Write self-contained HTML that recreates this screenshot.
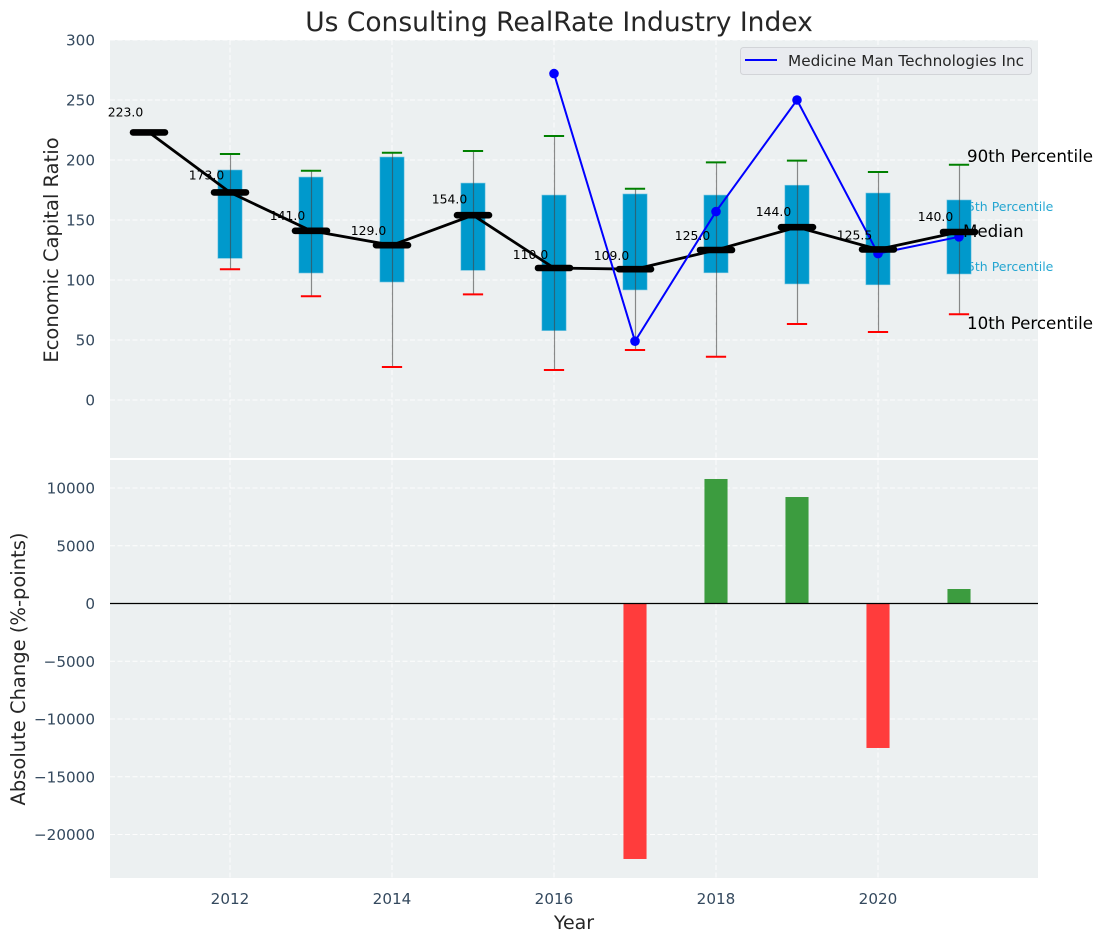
<!DOCTYPE html>
<html>
<head>
<meta charset="utf-8">
<style>
html,body{margin:0;padding:0;background:#fff;width:1102px;height:942px;overflow:hidden}
svg{display:block}
text{font-family:"DejaVu Sans","Liberation Sans",sans-serif}
</style>
</head>
<body>
<svg id="chart" width="1102" height="942" viewBox="0 0 1102 942" xmlns="http://www.w3.org/2000/svg">
  <text x="559" y="31" font-size="26.5" text-anchor="middle" fill="#262626">Us Consulting RealRate Industry Index</text>
  <rect x="110" y="40" width="928" height="418" fill="#ecf0f1"/>
  <rect x="110" y="460" width="928" height="418" fill="#ecf0f1"/>
  <g id="grid"></g>
  <g id="ticks"></g>
  <g id="bars"></g>
  <g id="pctText">
    <text x="959" y="211" font-size="12.5" fill="#0099cc" opacity="0.85">75th Percentile</text>
    <text x="959" y="271" font-size="12.5" fill="#0099cc" opacity="0.85">25th Percentile</text>
  </g>
  <g id="boxes"></g>
  <g id="medianLine"></g>
  <g id="companyLine"></g>
  <g id="medianCaps"></g>
  <g id="medianLabels"></g>
  <g>
    <text x="967" y="162" font-size="16.7" fill="#000">90th Percentile</text>
    <text x="963" y="237" font-size="16.7" fill="#000">Median</text>
    <text x="967" y="329" font-size="16.7" fill="#000">10th Percentile</text>
  </g>
  <g>
    <rect x="740.5" y="47.5" width="291" height="27" rx="3" fill="#e9ebef" stroke="#d2d4d8" stroke-width="1"/>
    <line x1="745" y1="60" x2="777" y2="60" stroke="#0000ff" stroke-width="2"/>
    <text x="788" y="66" font-size="15.3" fill="#262626">Medicine Man Technologies Inc</text>
  </g>
  <text transform="translate(58,250) rotate(-90)" font-size="19.5" text-anchor="middle" fill="#262626">Economic Capital Ratio</text>
  <text transform="translate(25,669) rotate(-90)" font-size="19.5" text-anchor="middle" fill="#262626">Absolute Change (%-points)</text>
  <text x="574" y="929" font-size="19" text-anchor="middle" fill="#262626">Year</text>
</svg>
<script>
var years = [2012, 2013, 2014, 2015, 2016, 2017, 2018, 2019, 2020, 2021];
var p90 = [205, 191, 206, 207.5, 220, 176, 198, 199.5, 190, 196];
var p75 = [191.7, 185.8, 202.5, 180.8, 170.8, 171.7, 170.8, 179, 172.5, 166.7];
var p25 = [118, 105.8, 98.3, 108, 57.8, 91.7, 106, 96.7, 96, 105];
var p10 = [109, 86.5, 27.5, 88, 25, 41.7, 36, 63.3, 56.7, 71.5];
var medianYears = [2011, 2012, 2013, 2014, 2015, 2016, 2017, 2018, 2019, 2020, 2021];
var medianValues = [223, 173, 141, 129, 154, 110, 109, 125, 144, 125.5, 140];
var companyYears = [2016, 2017, 2018, 2019, 2020, 2021];
var companyValues = [272, 49, 157, 250, 122, 136];
var changeYears = [2017, 2018, 2019, 2020, 2021];
var changeValues = [-22120, 10780, 9220, -12510, 1255];
var xTicks = [2012, 2014, 2016, 2018, 2020];
var topTicks = [0, 50, 100, 150, 200, 250, 300];
var bottomTicks = [-20000, -15000, -10000, -5000, 0, 5000, 10000];

function linear(d0, d1, r0, r1) {
  return function (v) { return r0 + (v - d0) * (r1 - r0) / (d1 - d0); };
}
var xScale = linear(2012, 2020, 230, 878);
var yTop = linear(0, 300, 400, 40);
var yBottom = linear(0, 10000, 603.5, 488);
var PLOT_L = 110, PLOT_R = 1038;

function make(parentId, tag, attrs) {
  var node = document.createElementNS('http://www.w3.org/2000/svg', tag);
  for (var k in attrs) node.setAttribute(k, attrs[k]);
  document.getElementById(parentId).appendChild(node);
  return node;
}
var n, i;

/* grid */
topTicks.forEach(function (t) {
  n = make('grid', 'line', {x1: PLOT_L, x2: PLOT_R, y1: yTop(t), y2: yTop(t), stroke: '#fff', 'stroke-width': 1, 'stroke-dasharray': '5 2.5', opacity: 0.9});
  
  
  n = make('ticks', 'text', {x: 95, y: yTop(t) + 5.5, 'text-anchor': 'end', 'font-size': 15.2, fill: '#34495e'});
  n.textContent = String(t);
  
  
});
bottomTicks.forEach(function (t) {
  n = make('grid', 'line', {x1: PLOT_L, x2: PLOT_R, y1: yBottom(t), y2: yBottom(t), stroke: '#fff', 'stroke-width': 1, 'stroke-dasharray': '5 2.5', opacity: 0.9});
  
  
  n = make('ticks', 'text', {x: 95, y: yBottom(t) + 5.5, 'text-anchor': 'end', 'font-size': 15.2, fill: '#34495e'});
  n.textContent = String(t).replace('-', '\u2212');
  
  
});
xTicks.forEach(function (t) {
  n = make('grid', 'line', {x1: xScale(t), x2: xScale(t), y1: 40, y2: 458, stroke: '#fff', 'stroke-width': 1, 'stroke-dasharray': '5 2.5', opacity: 0.9});
  
  
  n = make('grid', 'line', {x1: xScale(t), x2: xScale(t), y1: 460, y2: 878, stroke: '#fff', 'stroke-width': 1, 'stroke-dasharray': '5 2.5', opacity: 0.9});
  
  
  n = make('ticks', 'text', {x: xScale(t), y: 904, 'text-anchor': 'middle', 'font-size': 15.2, fill: '#34495e'});
  n.textContent = String(t);
  
  
});

/* change bars */
var barW = 0.285 * (xScale(1) - xScale(0));
changeYears.forEach(function (yr, idx) {
  var v = changeValues[idx];
  var y0 = yBottom(0), y1 = yBottom(v);
  n = make('bars', 'rect', {x: xScale(yr) - barW / 2, y: Math.min(y0, y1), width: barW, height: Math.abs(y1 - y0), fill: v >= 0 ? '#3c9c3f' : '#ff3c3c'});
  
  
});
n = make('bars', 'line', {x1: PLOT_L, x2: PLOT_R, y1: yBottom(0), y2: yBottom(0), stroke: '#000', 'stroke-width': 1.2});



/* box plots */
var boxW = 0.3 * (xScale(1) - xScale(0));
var capW = 0.25 * (xScale(1) - xScale(0));
for (i = 0; i < years.length; i++) {
  var cx = xScale(years[i]);
  n = make('boxes', 'rect', {x: cx - boxW / 2, y: yTop(p75[i]), width: boxW, height: yTop(p25[i]) - yTop(p75[i]), fill: '#0099cc', stroke: '#7fc8e2', 'stroke-width': 0.6});
  
  
  n = make('boxes', 'line', {x1: cx + 0.5, x2: cx + 0.5, y1: yTop(p90[i]), y2: yTop(p10[i]), stroke: '#444', 'stroke-width': 1.2, opacity: 0.6});
  
  
  n = make('boxes', 'line', {x1: cx - capW / 2, x2: cx + capW / 2, y1: yTop(p90[i]), y2: yTop(p90[i]), stroke: '#008000', 'stroke-width': 2});
  
  
  n = make('boxes', 'line', {x1: cx - capW / 2, x2: cx + capW / 2, y1: yTop(p10[i]), y2: yTop(p10[i]), stroke: '#ff0000', 'stroke-width': 2});
  
  
}

/* median line */
n = make('medianLine', 'polyline', {fill: 'none', stroke: '#000', 'stroke-width': 2.8, points: medianYears.map(function (yr, idx) { return xScale(yr) + ',' + yTop(medianValues[idx]); }).join(' ')});



/* company line */
n = make('companyLine', 'polyline', {fill: 'none', stroke: '#0000ff', 'stroke-width': 2, points: companyYears.map(function (yr, idx) { return xScale(yr) + ',' + yTop(companyValues[idx]); }).join(' ')});


companyYears.forEach(function (yr, idx) {
  n = make('companyLine', 'circle', {cx: xScale(yr), cy: yTop(companyValues[idx]), r: 4.8, fill: '#0000ff'});
  
  
});

/* median markers + labels */
medianYears.forEach(function (yr, idx) {
  var v = medianValues[idx], px = xScale(yr), py = yTop(v);
  n = make('medianCaps', 'line', {x1: px - 16, x2: px + 16, y1: py, y2: py, stroke: '#000', 'stroke-width': 6.6, 'stroke-linecap': 'round'});
  
  
  n = make('medianLabels', 'text', {x: px - 23.5, y: yTop(v * 1.05) - 2.5, 'text-anchor': 'middle', 'font-size': 12.4, fill: '#000'});
  n.textContent = v.toFixed(1);
  
  
});
</script>
</body>
</html>
